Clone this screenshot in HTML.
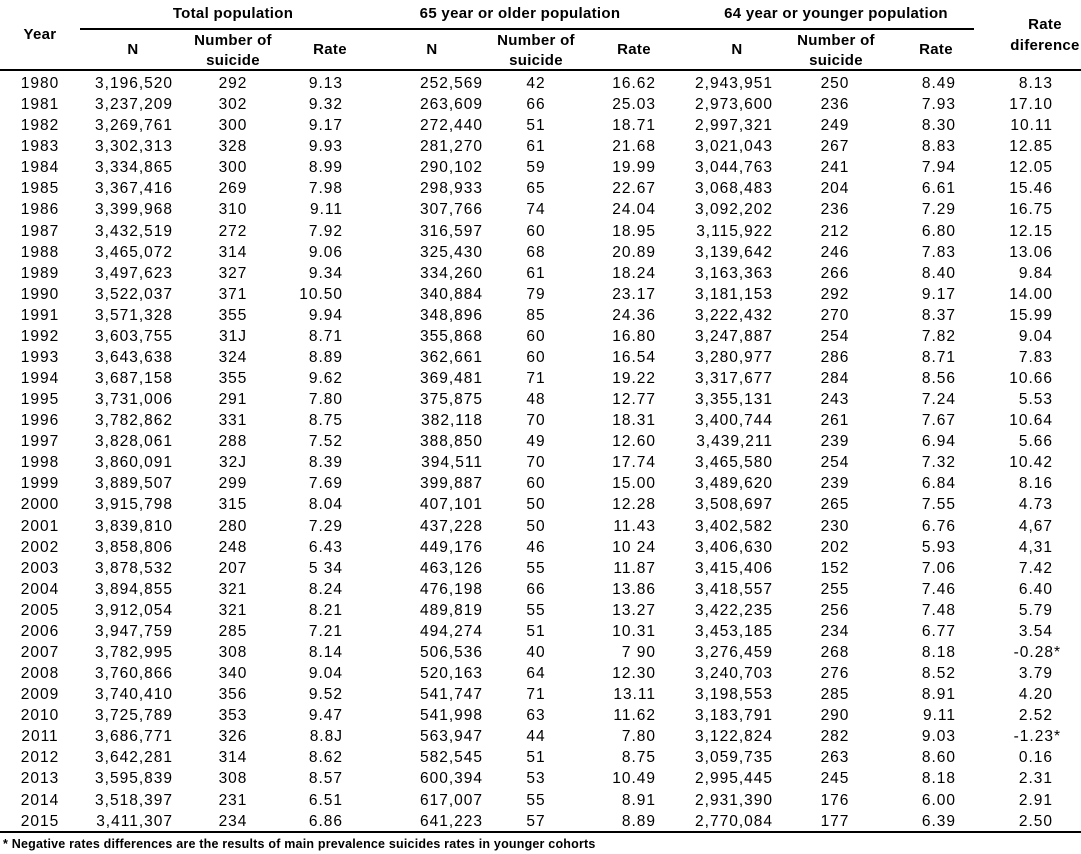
<!DOCTYPE html>
<html><head><meta charset="utf-8"><style>
body{margin:0;width:1081px;height:854px;background:#fff;position:relative;overflow:hidden;font-family:"Liberation Sans",sans-serif;color:#000}
.t{position:absolute;white-space:nowrap;font-size:15.5px;letter-spacing:0.6px;line-height:18px}
.h{font-weight:bold;font-size:15px;letter-spacing:0.3px}
.c{transform:translateX(-50%);text-align:center}
.r{position:absolute;left:0;width:1081px;height:21px}
.r span{position:absolute;white-space:nowrap;font-size:15.5px;letter-spacing:1px;top:2px}
.y{left:40px;transform:translateX(-50%)}
.a{right:908px}.b{left:233px;transform:translateX(-50%)}.d{right:738px}
.e{right:598px}.f{left:536px;transform:translateX(-50%)}.g{right:425px}
.i{right:308px}.j{left:835px;transform:translateX(-50%)}.k{right:125px}
.l{right:28px}
.ln{position:absolute;background:#000}
</style></head><body>
<div class="t h c" style="left:40px;top:26px">Year</div>
<div class="t h c" style="left:233px;top:5px">Total population</div>
<div class="t h c" style="left:520px;top:5px">65 year or older population</div>
<div class="t h c" style="left:836px;top:5px">64 year or younger population</div>
<div class="t h c" style="left:1045px;top:16px">Rate</div>
<div class="t h c" style="left:1045px;top:37px">diference</div>
<div class="t h c" style="left:133px;top:41px">N</div>
<div class="t h c" style="left:233px;top:32px">Number of</div>
<div class="t h c" style="left:233px;top:52px">suicide</div>
<div class="t h c" style="left:330px;top:41px">Rate</div>
<div class="t h c" style="left:432px;top:41px">N</div>
<div class="t h c" style="left:536px;top:32px">Number of</div>
<div class="t h c" style="left:536px;top:52px">suicide</div>
<div class="t h c" style="left:634px;top:41px">Rate</div>
<div class="t h c" style="left:737px;top:41px">N</div>
<div class="t h c" style="left:836px;top:32px">Number of</div>
<div class="t h c" style="left:836px;top:52px">suicide</div>
<div class="t h c" style="left:936px;top:41px">Rate</div>
<div class="ln" style="left:80px;top:28px;width:894px;height:2px"></div>
<div class="ln" style="left:0;top:69px;width:1081px;height:2px"></div>
<div class="ln" style="left:0;top:831px;width:1081px;height:2px"></div>
<div class="t" style="left:3px;top:835px;font-size:12.5px;letter-spacing:0.2px;font-weight:bold">* Negative rates differences are the results of main prevalence suicides rates in younger cohorts</div>

<div class="r" style="top:73px"><span class="y">1980</span><span class="a">3,196,520</span><span class="b">292</span><span class="d">9.13</span><span class="e">252,569</span><span class="f">42</span><span class="g">16.62</span><span class="i">2,943,951</span><span class="j">250</span><span class="k">8.49</span><span class="l">8.13</span></div>
<div class="r" style="top:94px"><span class="y">1981</span><span class="a">3,237,209</span><span class="b">302</span><span class="d">9.32</span><span class="e">263,609</span><span class="f">66</span><span class="g">25.03</span><span class="i">2,973,600</span><span class="j">236</span><span class="k">7.93</span><span class="l">17.10</span></div>
<div class="r" style="top:115px"><span class="y">1982</span><span class="a">3,269,761</span><span class="b">300</span><span class="d">9.17</span><span class="e">272,440</span><span class="f">51</span><span class="g">18.71</span><span class="i">2,997,321</span><span class="j">249</span><span class="k">8.30</span><span class="l">10.11</span></div>
<div class="r" style="top:136px"><span class="y">1983</span><span class="a">3,302,313</span><span class="b">328</span><span class="d">9.93</span><span class="e">281,270</span><span class="f">61</span><span class="g">21.68</span><span class="i">3,021,043</span><span class="j">267</span><span class="k">8.83</span><span class="l">12.85</span></div>
<div class="r" style="top:157px"><span class="y">1984</span><span class="a">3,334,865</span><span class="b">300</span><span class="d">8.99</span><span class="e">290,102</span><span class="f">59</span><span class="g">19.99</span><span class="i">3,044,763</span><span class="j">241</span><span class="k">7.94</span><span class="l">12.05</span></div>
<div class="r" style="top:178px"><span class="y">1985</span><span class="a">3,367,416</span><span class="b">269</span><span class="d">7.98</span><span class="e">298,933</span><span class="f">65</span><span class="g">22.67</span><span class="i">3,068,483</span><span class="j">204</span><span class="k">6.61</span><span class="l">15.46</span></div>
<div class="r" style="top:199px"><span class="y">1986</span><span class="a">3,399,968</span><span class="b">310</span><span class="d">9.11</span><span class="e">307,766</span><span class="f">74</span><span class="g">24.04</span><span class="i">3,092,202</span><span class="j">236</span><span class="k">7.29</span><span class="l">16.75</span></div>
<div class="r" style="top:221px"><span class="y">1987</span><span class="a">3,432,519</span><span class="b">272</span><span class="d">7.92</span><span class="e">316,597</span><span class="f">60</span><span class="g">18.95</span><span class="i">3,115,922</span><span class="j">212</span><span class="k">6.80</span><span class="l">12.15</span></div>
<div class="r" style="top:242px"><span class="y">1988</span><span class="a">3,465,072</span><span class="b">314</span><span class="d">9.06</span><span class="e">325,430</span><span class="f">68</span><span class="g">20.89</span><span class="i">3,139,642</span><span class="j">246</span><span class="k">7.83</span><span class="l">13.06</span></div>
<div class="r" style="top:263px"><span class="y">1989</span><span class="a">3,497,623</span><span class="b">327</span><span class="d">9.34</span><span class="e">334,260</span><span class="f">61</span><span class="g">18.24</span><span class="i">3,163,363</span><span class="j">266</span><span class="k">8.40</span><span class="l">9.84</span></div>
<div class="r" style="top:284px"><span class="y">1990</span><span class="a">3,522,037</span><span class="b">371</span><span class="d">10.50</span><span class="e">340,884</span><span class="f">79</span><span class="g">23.17</span><span class="i">3,181,153</span><span class="j">292</span><span class="k">9.17</span><span class="l">14.00</span></div>
<div class="r" style="top:305px"><span class="y">1991</span><span class="a">3,571,328</span><span class="b">355</span><span class="d">9.94</span><span class="e">348,896</span><span class="f">85</span><span class="g">24.36</span><span class="i">3,222,432</span><span class="j">270</span><span class="k">8.37</span><span class="l">15.99</span></div>
<div class="r" style="top:326px"><span class="y">1992</span><span class="a">3,603,755</span><span class="b">31J</span><span class="d">8.71</span><span class="e">355,868</span><span class="f">60</span><span class="g">16.80</span><span class="i">3,247,887</span><span class="j">254</span><span class="k">7.82</span><span class="l">9.04</span></div>
<div class="r" style="top:347px"><span class="y">1993</span><span class="a">3,643,638</span><span class="b">324</span><span class="d">8.89</span><span class="e">362,661</span><span class="f">60</span><span class="g">16.54</span><span class="i">3,280,977</span><span class="j">286</span><span class="k">8.71</span><span class="l">7.83</span></div>
<div class="r" style="top:368px"><span class="y">1994</span><span class="a">3,687,158</span><span class="b">355</span><span class="d">9.62</span><span class="e">369,481</span><span class="f">71</span><span class="g">19.22</span><span class="i">3,317,677</span><span class="j">284</span><span class="k">8.56</span><span class="l">10.66</span></div>
<div class="r" style="top:389px"><span class="y">1995</span><span class="a">3,731,006</span><span class="b">291</span><span class="d">7.80</span><span class="e">375,875</span><span class="f">48</span><span class="g">12.77</span><span class="i">3,355,131</span><span class="j">243</span><span class="k">7.24</span><span class="l">5.53</span></div>
<div class="r" style="top:410px"><span class="y">1996</span><span class="a">3,782,862</span><span class="b">331</span><span class="d">8.75</span><span class="e">382,118</span><span class="f">70</span><span class="g">18.31</span><span class="i">3,400,744</span><span class="j">261</span><span class="k">7.67</span><span class="l">10.64</span></div>
<div class="r" style="top:431px"><span class="y">1997</span><span class="a">3,828,061</span><span class="b">288</span><span class="d">7.52</span><span class="e">388,850</span><span class="f">49</span><span class="g">12.60</span><span class="i">3,439,211</span><span class="j">239</span><span class="k">6.94</span><span class="l">5.66</span></div>
<div class="r" style="top:452px"><span class="y">1998</span><span class="a">3,860,091</span><span class="b">32J</span><span class="d">8.39</span><span class="e">394,511</span><span class="f">70</span><span class="g">17.74</span><span class="i">3,465,580</span><span class="j">254</span><span class="k">7.32</span><span class="l">10.42</span></div>
<div class="r" style="top:473px"><span class="y">1999</span><span class="a">3,889,507</span><span class="b">299</span><span class="d">7.69</span><span class="e">399,887</span><span class="f">60</span><span class="g">15.00</span><span class="i">3,489,620</span><span class="j">239</span><span class="k">6.84</span><span class="l">8.16</span></div>
<div class="r" style="top:494px"><span class="y">2000</span><span class="a">3,915,798</span><span class="b">315</span><span class="d">8.04</span><span class="e">407,101</span><span class="f">50</span><span class="g">12.28</span><span class="i">3,508,697</span><span class="j">265</span><span class="k">7.55</span><span class="l">4.73</span></div>
<div class="r" style="top:516px"><span class="y">2001</span><span class="a">3,839,810</span><span class="b">280</span><span class="d">7.29</span><span class="e">437,228</span><span class="f">50</span><span class="g">11.43</span><span class="i">3,402,582</span><span class="j">230</span><span class="k">6.76</span><span class="l">4,67</span></div>
<div class="r" style="top:537px"><span class="y">2002</span><span class="a">3,858,806</span><span class="b">248</span><span class="d">6.43</span><span class="e">449,176</span><span class="f">46</span><span class="g">10 24</span><span class="i">3,406,630</span><span class="j">202</span><span class="k">5.93</span><span class="l">4,31</span></div>
<div class="r" style="top:558px"><span class="y">2003</span><span class="a">3,878,532</span><span class="b">207</span><span class="d">5 34</span><span class="e">463,126</span><span class="f">55</span><span class="g">11.87</span><span class="i">3,415,406</span><span class="j">152</span><span class="k">7.06</span><span class="l">7.42</span></div>
<div class="r" style="top:579px"><span class="y">2004</span><span class="a">3,894,855</span><span class="b">321</span><span class="d">8.24</span><span class="e">476,198</span><span class="f">66</span><span class="g">13.86</span><span class="i">3,418,557</span><span class="j">255</span><span class="k">7.46</span><span class="l">6.40</span></div>
<div class="r" style="top:600px"><span class="y">2005</span><span class="a">3,912,054</span><span class="b">321</span><span class="d">8.21</span><span class="e">489,819</span><span class="f">55</span><span class="g">13.27</span><span class="i">3,422,235</span><span class="j">256</span><span class="k">7.48</span><span class="l">5.79</span></div>
<div class="r" style="top:621px"><span class="y">2006</span><span class="a">3,947,759</span><span class="b">285</span><span class="d">7.21</span><span class="e">494,274</span><span class="f">51</span><span class="g">10.31</span><span class="i">3,453,185</span><span class="j">234</span><span class="k">6.77</span><span class="l">3.54</span></div>
<div class="r" style="top:642px"><span class="y">2007</span><span class="a">3,782,995</span><span class="b">308</span><span class="d">8.14</span><span class="e">506,536</span><span class="f">40</span><span class="g">7 90</span><span class="i">3,276,459</span><span class="j">268</span><span class="k">8.18</span><span class="l" style="right:20px">-0.28*</span></div>
<div class="r" style="top:663px"><span class="y">2008</span><span class="a">3,760,866</span><span class="b">340</span><span class="d">9.04</span><span class="e">520,163</span><span class="f">64</span><span class="g">12.30</span><span class="i">3,240,703</span><span class="j">276</span><span class="k">8.52</span><span class="l">3.79</span></div>
<div class="r" style="top:684px"><span class="y">2009</span><span class="a">3,740,410</span><span class="b">356</span><span class="d">9.52</span><span class="e">541,747</span><span class="f">71</span><span class="g">13.11</span><span class="i">3,198,553</span><span class="j">285</span><span class="k">8.91</span><span class="l">4.20</span></div>
<div class="r" style="top:705px"><span class="y">2010</span><span class="a">3,725,789</span><span class="b">353</span><span class="d">9.47</span><span class="e">541,998</span><span class="f">63</span><span class="g">11.62</span><span class="i">3,183,791</span><span class="j">290</span><span class="k">9.11</span><span class="l">2.52</span></div>
<div class="r" style="top:726px"><span class="y">2011</span><span class="a">3,686,771</span><span class="b">326</span><span class="d">8.8J</span><span class="e">563,947</span><span class="f">44</span><span class="g">7.80</span><span class="i">3,122,824</span><span class="j">282</span><span class="k">9.03</span><span class="l" style="right:20px">-1.23*</span></div>
<div class="r" style="top:747px"><span class="y">2012</span><span class="a">3,642,281</span><span class="b">314</span><span class="d">8.62</span><span class="e">582,545</span><span class="f">51</span><span class="g">8.75</span><span class="i">3,059,735</span><span class="j">263</span><span class="k">8.60</span><span class="l">0.16</span></div>
<div class="r" style="top:768px"><span class="y">2013</span><span class="a">3,595,839</span><span class="b">308</span><span class="d">8.57</span><span class="e">600,394</span><span class="f">53</span><span class="g">10.49</span><span class="i">2,995,445</span><span class="j">245</span><span class="k">8.18</span><span class="l">2.31</span></div>
<div class="r" style="top:790px"><span class="y">2014</span><span class="a">3,518,397</span><span class="b">231</span><span class="d">6.51</span><span class="e">617,007</span><span class="f">55</span><span class="g">8.91</span><span class="i">2,931,390</span><span class="j">176</span><span class="k">6.00</span><span class="l">2.91</span></div>
<div class="r" style="top:811px"><span class="y">2015</span><span class="a">3,411,307</span><span class="b">234</span><span class="d">6.86</span><span class="e">641,223</span><span class="f">57</span><span class="g">8.89</span><span class="i">2,770,084</span><span class="j">177</span><span class="k">6.39</span><span class="l">2.50</span></div>
</body></html>
